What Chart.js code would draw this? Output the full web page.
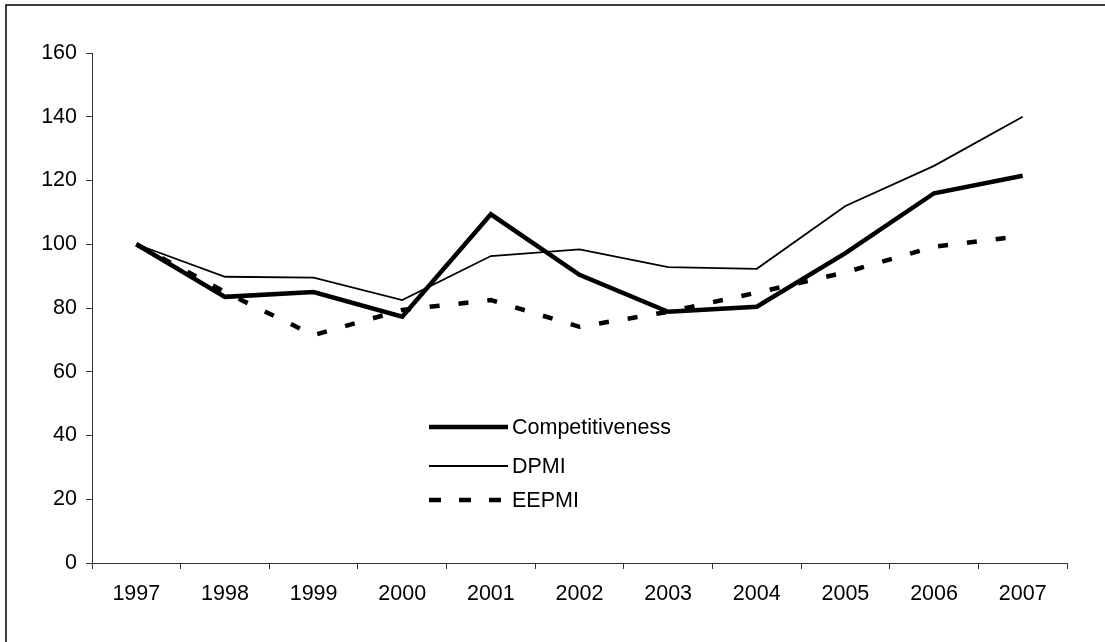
<!DOCTYPE html>
<html>
<head>
<meta charset="utf-8">
<style>
  html, body { margin: 0; padding: 0; background: #fff; }
  #wrap { position: relative; width: 1105px; height: 642px; }
  canvas { display: block; }
</style>
<script src="https://cdn.jsdelivr.net/npm/chart.js@4/dist/chart.umd.min.js"></script>
</head>
<body>
<div id="wrap"><canvas id="c" width="1105" height="642"></canvas></div>
<script>
// Years on the horizontal axis
const years = ['1997', '1998', '1999', '2000', '2001', '2002', '2003', '2004', '2005', '2006', '2007'];

// Index values (1997 = 100)
const competitiveness = [100, 83.5, 85.0, 77.3, 109.4, 90.4, 78.8, 80.4, 97.2, 116.0, 121.5];
const dpmi            = [100, 89.8, 89.5, 82.5, 96.3, 98.4, 92.8, 92.3, 112.0, 124.6, 140.0];
const eepmi           = [100, 85.0, 71.5, 79.4, 82.5, 74.1, 78.8, 84.8, 91.2, 99.2, 102.6];

// Value axis range
const yMin = 0, yMax = 160, yStep = 20;

const FONT = 'Liberation Sans, Arial, sans-serif';
const FONT_SIZE = 21.5;
const AXIS_COLOR = '#333';

// Frame around the whole figure (only top and left edges fall inside the canvas)
const framePlugin = {
  id: 'frame',
  beforeDraw(chart) {
    const ctx = chart.ctx;
    ctx.save();
    ctx.strokeStyle = '#000';
    ctx.lineWidth = 1.5;
    ctx.beginPath();
    ctx.moveTo(6, chart.height + 2);
    ctx.lineTo(6, 5);
    ctx.lineTo(chart.width + 2, 5);
    ctx.stroke();
    ctx.restore();
  }
};

// Legend drawn inside the plot, using each dataset's own line style
const insideLegend = {
  id: 'insideLegend',
  afterDraw(chart) {
    const ctx = chart.ctx;
    const x0 = 429, x1 = 508, textX = 512;
    const rows = [427, 466, 500];
    ctx.save();
    chart.data.datasets.forEach((ds, i) => {
      const y = rows[i];
      ctx.strokeStyle = ds.borderColor;
      ctx.lineWidth = ds.borderWidth;
      ctx.setLineDash(ds.legendDash || []);
      ctx.lineCap = 'butt';
      ctx.beginPath();
      ctx.moveTo(x0, y);
      ctx.lineTo(x1, y);
      ctx.stroke();
      ctx.setLineDash([]);
      ctx.fillStyle = '#000';
      ctx.font = FONT_SIZE + 'px ' + FONT;
      ctx.textAlign = 'left';
      ctx.textBaseline = 'middle';
      ctx.fillText(ds.label, textX, y + 1);
    });
    ctx.restore();
  }
};

new Chart(document.getElementById('c'), {
  type: 'line',
  data: {
    labels: years,
    datasets: [
      {
        label: 'Competitiveness',
        data: competitiveness,
        borderColor: '#000',
        borderWidth: 4.5,
        pointRadius: 0,
        tension: 0
      },
      {
        label: 'DPMI',
        data: dpmi,
        borderColor: '#000',
        borderWidth: 1.8,
        pointRadius: 0,
        tension: 0
      },
      {
        label: 'EEPMI',
        data: eepmi,
        borderColor: '#000',
        borderWidth: 4.5,
        borderDash: [10, 19],
        legendDash: [12, 18],
        pointRadius: 0,
        tension: 0
      }
    ]
  },
  options: {
    responsive: false,
    animation: false,
    events: [],
    layout: { padding: { top: 53, right: 38, left: 0, bottom: 0 } },
    plugins: {
      legend: { display: false },
      tooltip: { enabled: false }
    },
    scales: {
      x: {
        offset: true,
        grid: {
          offset: true,
          drawOnChartArea: false,
          drawTicks: true,
          tickLength: 6,
          color: AXIS_COLOR,
          lineWidth: 1
        },
        border: { display: true, color: AXIS_COLOR, width: 1 },
        ticks: {
          color: '#000',
          font: { family: FONT, size: FONT_SIZE },
          padding: 12,
          maxRotation: 0,
          autoSkip: false
        },
        afterFit(scale) { scale.height = 79; }
      },
      y: {
        min: yMin,
        max: yMax,
        grid: {
          drawOnChartArea: false,
          drawTicks: true,
          tickLength: 6,
          color: AXIS_COLOR,
          lineWidth: 1
        },
        border: { display: true, color: AXIS_COLOR, width: 1 },
        ticks: {
          stepSize: yStep,
          color: '#000',
          font: { family: FONT, size: FONT_SIZE },
          padding: 9
        },
        afterFit(scale) { scale.width = 92; }
      }
    }
  },
  plugins: [framePlugin, insideLegend]
});
</script>
</body>
</html>
